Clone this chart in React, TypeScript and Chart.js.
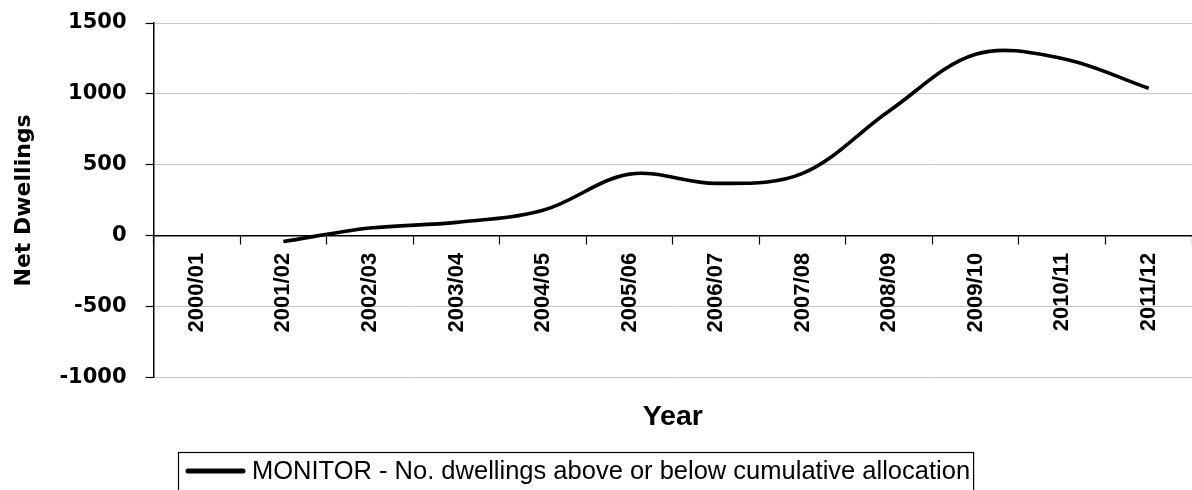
import React, { useEffect, useRef } from "react";
import { Chart, registerables } from "chart.js";

Chart.register(...registerables);

const categories = [
  "2000/01", "2001/02", "2002/03", "2003/04", "2004/05", "2005/06",
  "2006/07", "2007/08", "2008/09", "2009/10", "2010/11", "2011/12",
];
const monitorValues = [null, -40, 55, 95, 180, 435, 370, 440, 880, 1280, 1250, 1040];
const yTicks = [-1000, -500, 0, 500, 1000, 1500];
const seriesLabel = "MONITOR - No. dwellings above or below cumulative allocation";
const xTitle = "Year";
const yTitle = "Net Dwellings";

const boxedLegend = {
  id: "boxedLegend",
  afterDraw(chart: any) {
    const ctx = chart.ctx as CanvasRenderingContext2D;
    const ds = chart.data.datasets[0];
    const H = chart.height;
    ctx.save();
    ctx.font = '25.5px "Liberation Sans", Arial, sans-serif';
    const tw = ctx.measureText(ds.label).width;
    const contentLeft = 186;
    const lineLen = 59;
    const gap = 7;
    const cy = H - 19;
    const boxLeft = contentLeft - 8;
    const boxTop = H - 38;
    const boxRight = contentLeft + lineLen + gap + tw + 3;
    ctx.strokeStyle = "#000";
    ctx.lineWidth = 1.2;
    ctx.strokeRect(boxLeft + 0.5, boxTop + 0.5, boxRight - boxLeft, 60);
    ctx.beginPath();
    ctx.lineCap = "round";
    ctx.lineWidth = 5;
    ctx.moveTo(contentLeft + 2, cy);
    ctx.lineTo(contentLeft + lineLen - 2, cy);
    ctx.stroke();
    ctx.fillStyle = "#000";
    ctx.textBaseline = "middle";
    ctx.textAlign = "left";
    ctx.fillText(ds.label, contentLeft + lineLen + gap, cy + 1);
    ctx.restore();
  },
};

export default function App() {
  const canvasRef = useRef<HTMLCanvasElement | null>(null);

  useEffect(() => {
    document.body.style.margin = "0";
    const canvas = canvasRef.current;
    if (!canvas) return;
    const chart = new Chart(canvas, {
      type: "line",
      data: {
        labels: categories,
        datasets: [
          {
            label: seriesLabel,
            data: monitorValues,
            borderColor: "#000",
            backgroundColor: "#000",
            borderWidth: 3.6,
            pointRadius: 0,
            tension: 0.35,
            fill: false,
          },
        ],
      },
      options: {
        animation: false,
        responsive: true,
        maintainAspectRatio: false,
        layout: { padding: { top: 23, left: 11, right: 0, bottom: 56 } },
        plugins: {
          legend: { display: false },
          tooltip: { enabled: false },
          title: {
            display: true,
            text: xTitle,
            position: "bottom",
            fullSize: false,
            color: "#000",
            font: { family: '"Liberation Sans", Arial, sans-serif', size: 28.5, weight: "bold" },
            padding: { top: 22, bottom: 0 },
          },
        },
        scales: {
          x: {
            type: "category",
            position: { y: 0 } as any,
            offset: true,
            grid: {
              offset: true,
              drawOnChartArea: false,
              drawTicks: true,
              tickLength: 8,
              tickColor: "#000",
              tickWidth: 1.2,
            },
            border: { display: true, color: "#000", width: 1.5 },
            ticks: {
              autoSkip: false,
              minRotation: 90,
              maxRotation: 90,
              padding: 9,
              color: "#000",
              font: { family: '"Liberation Sans", Arial, sans-serif', size: 22, weight: "bold" },
            },
          },
          y: {
            type: "linear",
            min: yTicks[0],
            max: yTicks[yTicks.length - 1],
            afterFit: (s: any) => {
              s.paddingTop = 0;
              s.paddingBottom = 0;
            },
            grid: {
              color: "#c4c4c4",
              lineWidth: 1,
              tickLength: 8,
              tickColor: "#000",
              tickWidth: 1.2,
            },
            border: { display: true, color: "#000", width: 1.5 },
            ticks: {
              stepSize: yTicks[1] - yTicks[0],
              padding: 19,
              color: "#000",
              font: { family: '"DejaVu Sans", sans-serif', size: 21, weight: "bold" },
              callback: (v: any) => String(v),
            },
            title: {
              display: true,
              text: yTitle,
              color: "#000",
              font: { family: '"DejaVu Sans", sans-serif', size: 22, weight: "bold" },
              padding: { top: 0, bottom: 3 },
            },
          },
        },
      },
      plugins: [boxedLegend],
    });
    return () => chart.destroy();
  }, []);

  return (
    <div style={{ position: "fixed", left: 0, top: 0, width: 1192, height: 490, background: "#fff" }}>
      <canvas ref={canvasRef} />
    </div>
  );
}
